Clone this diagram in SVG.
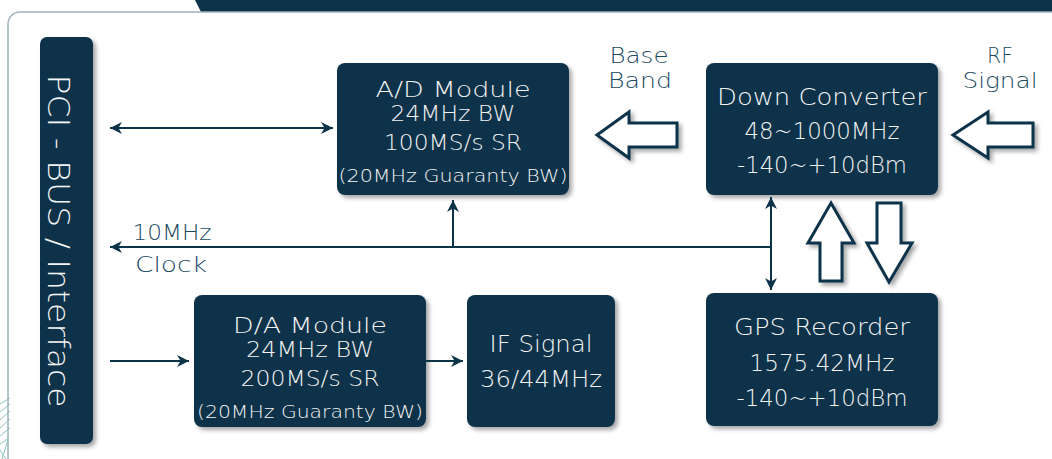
<svg xmlns="http://www.w3.org/2000/svg" width="1052" height="459" viewBox="0 0 1052 459">
<defs>
<filter id="sh" x="-20%" y="-20%" width="140%" height="140%">
<feDropShadow dx="3" dy="3" stdDeviation="2" flood-color="#000" flood-opacity="0.35"/>
</filter>
<marker id="ah" markerUnits="userSpaceOnUse" markerWidth="12" markerHeight="12" viewBox="0 0 10 10" refX="10" refY="5" orient="auto-start-reverse">
<path d="M0,0 L10,5 L0,10 L3,5 z" fill="#0d3349"/>
</marker>
<style>
.box{fill:#0c3349;filter:url(#sh)}
.t{font-family:"DejaVu Sans","Liberation Sans",sans-serif;fill:#f4f4f4;text-anchor:middle;font-weight:300}
.lb{font-family:"DejaVu Sans","Liberation Sans",sans-serif;fill:#1a4a5f;text-anchor:middle;font-weight:300}
.ln{stroke:#0d3349;stroke-width:2;fill:none}
.ha{fill:#fff;stroke:#0d3349;stroke-width:3;stroke-linejoin:miter;filter:url(#sh)}
</style>
</defs>
<rect width="1052" height="459" fill="#fff"/>
<polygon points="195,0 1052,0 1052,12 201,12" fill="#0c3349"/>
<rect x="8" y="12" width="1070" height="480" rx="12" fill="#fff" stroke="#9fb3ba" stroke-width="1.5"/>
<g id="deco" stroke="#8cc2bd" stroke-width="1" fill="none">
<path d="M0,404 L10,398 M0,412 L10,404 M0,420 L10,411 M0,428 L10,419 M0,436 L10,428 M0,444 L9,438 M2,459 L8,440 M0,450 L6,459"/>
</g>
<g id="pci">
<rect class="box" x="40" y="37" width="53" height="407" rx="7"/>
<text class="t" font-size="30" transform="translate(48,241) rotate(90)" textLength="333" lengthAdjust="spacingAndGlyphs">PCI - BUS / Interface</text>
</g>
<g id="ad">
<rect class="box" x="337" y="63" width="232" height="132" rx="8"/>
<text class="t" x="453" y="97" font-size="22" textLength="155" lengthAdjust="spacingAndGlyphs">A/D Module</text>
<text class="t" x="453" y="121" font-size="22" textLength="125" lengthAdjust="spacingAndGlyphs">24MHz BW</text>
<text class="t" x="453" y="150" font-size="22" textLength="138" lengthAdjust="spacingAndGlyphs">100MS/s SR</text>
<text class="t" x="453" y="182" font-size="18" textLength="229" lengthAdjust="spacingAndGlyphs">(20MHz Guaranty BW)</text>
</g>
<g id="dc">
<rect class="box" x="706" y="63" width="232" height="132" rx="8"/>
<text class="t" x="822" y="105" font-size="23" textLength="210" lengthAdjust="spacingAndGlyphs">Down Converter</text>
<text class="t" x="822" y="139" font-size="23" textLength="155" lengthAdjust="spacingAndGlyphs">48~1000MHz</text>
<text class="t" x="822" y="173" font-size="23" textLength="170" lengthAdjust="spacingAndGlyphs">-140~+10dBm</text>
</g>
<g id="da">
<rect class="box" x="194" y="295" width="232" height="132" rx="8"/>
<text class="t" x="310" y="333" font-size="21" textLength="154" lengthAdjust="spacingAndGlyphs">D/A Module</text>
<text class="t" x="310" y="357" font-size="21" textLength="128" lengthAdjust="spacingAndGlyphs">24MHz BW</text>
<text class="t" x="310" y="386" font-size="22" textLength="139" lengthAdjust="spacingAndGlyphs">200MS/s SR</text>
<text class="t" x="310" y="418" font-size="18" textLength="226" lengthAdjust="spacingAndGlyphs">(20MHz Guaranty BW)</text>
</g>
<g id="if">
<rect class="box" x="467" y="295" width="148" height="132" rx="8"/>
<text class="t" x="541" y="352" font-size="23" textLength="103" lengthAdjust="spacingAndGlyphs">IF Signal</text>
<text class="t" x="541" y="387" font-size="23" textLength="122" lengthAdjust="spacingAndGlyphs">36/44MHz</text>
</g>
<g id="gps">
<rect class="box" x="706" y="293" width="232" height="133" rx="8"/>
<text class="t" x="822" y="335" font-size="23" textLength="176" lengthAdjust="spacingAndGlyphs">GPS Recorder</text>
<text class="t" x="822" y="371" font-size="23" textLength="145" lengthAdjust="spacingAndGlyphs">1575.42MHz</text>
<text class="t" x="822" y="406" font-size="23" textLength="171" lengthAdjust="spacingAndGlyphs">-140~+10dBm</text>
</g>
<g id="labels">
<text class="lb" x="639" y="63" font-size="22" textLength="59" lengthAdjust="spacingAndGlyphs">Base</text>
<text class="lb" x="640" y="88" font-size="22" textLength="64" lengthAdjust="spacingAndGlyphs">Band</text>
<text class="lb" x="1000" y="63" font-size="22" textLength="26" lengthAdjust="spacingAndGlyphs">RF</text>
<text class="lb" x="1000" y="88" font-size="22" textLength="75" lengthAdjust="spacingAndGlyphs">Signal</text>
<text class="lb" x="172" y="240" font-size="21" textLength="79" lengthAdjust="spacingAndGlyphs">10MHz</text>
<text class="lb" x="171" y="272" font-size="21" textLength="72" lengthAdjust="spacingAndGlyphs">Clock</text>
</g>
<g id="connectors">
<line class="ln" x1="110" y1="128" x2="333" y2="128" marker-start="url(#ah)" marker-end="url(#ah)"/>
<line class="ln" x1="772" y1="247" x2="110" y2="247" marker-end="url(#ah)"/>
<line class="ln" x1="453" y1="247" x2="453" y2="200" marker-end="url(#ah)"/>
<line class="ln" x1="771" y1="197" x2="771" y2="290" marker-start="url(#ah)" marker-end="url(#ah)"/>
<line class="ln" x1="110" y1="361" x2="189" y2="361" marker-end="url(#ah)"/>
<line class="ln" x1="426" y1="361" x2="463" y2="361" marker-end="url(#ah)"/>
<polygon class="ha" points="597,135 629,112 629,123 677,123 677,147 629,147 629,158"/>
<polygon class="ha" points="953,135 988,112 988,123 1033,123 1033,147 988,147 988,158"/>
<polygon class="ha" points="831,203 854,243 842,243 842,281 820,281 820,243 808,243"/>
<polygon class="ha" points="877,203 901,203 901,243 912,243 889,282 867,243 877,243"/>
</g>
</svg>
